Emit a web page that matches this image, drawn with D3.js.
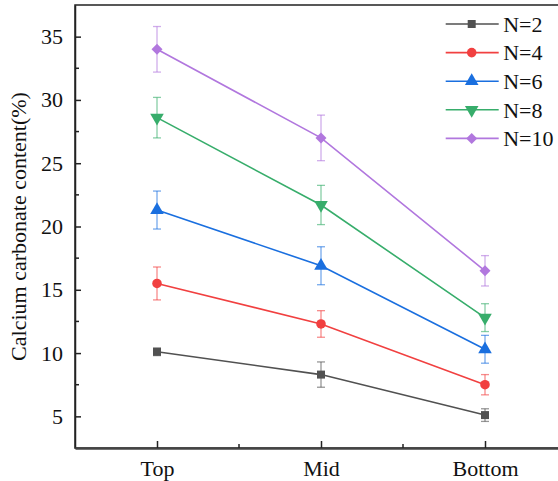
<!DOCTYPE html>
<html>
<head>
<meta charset="utf-8">
<script src="https://cdn.jsdelivr.net/npm/d3@7"></script>
<style>
  body { margin: 0; background: #fff; }
  svg text { font-family: "Liberation Serif", "Times New Roman", serif; }
</style>
</head>
<body>
<div id="chart"></div>
<script>
// positions along the column
const positions = ["Top", "Mid", "Bottom"];
// series names and colours (Origin style palette)
const seriesNames = ["N=2", "N=4", "N=6", "N=8", "N=10"];
const seriesColors = ["#515151", "#F14040", "#1A6FDF", "#37AD6B", "#B177DE"];
const seriesSymbols = ["square", "circle", "triangle", "triangleDown", "diamond"];
// values, Top / Mid / Bottom
const valuesN2 = [10.1, 8.3, 5.1];
const valuesN4 = [15.5, 12.3, 7.5];
const valuesN6 = [21.3, 16.9, 10.3];
const valuesN8 = [28.6, 21.7, 12.8];
const valuesN10 = [34.0, 27.0, 16.5];
// error bars (+/-)
const errN2 = [0.3, 1.0, 0.5];
const errN4 = [1.3, 1.05, 0.8];
const errN6 = [1.5, 1.5, 1.1];
const errN8 = [1.6, 1.55, 1.1];
const errN10 = [1.8, 1.8, 1.2];
const yTicks = [5, 10, 15, 20, 25, 30, 35];

const allValues = [valuesN2, valuesN4, valuesN6, valuesN8, valuesN10];
const allErrs = [errN2, errN4, errN6, errN8, errN10];

const svgWidth = 558;
const svgHeight = 481;
const margin = { top: 5, right: -9, bottom: 33, left: 75 };
const width = svgWidth - margin.left - margin.right;
const height = svgHeight - margin.top - margin.bottom;

const svg = d3.select("#chart")
    .append("svg")
    .attr("width", svgWidth)
    .attr("height", svgHeight)
    .append("g")
    .attr("transform", `translate(${margin.left},${margin.top})`);

// x is a linear scale so the minor ticks can sit between categories
const x = d3.scaleLinear()
    .domain([0.5, positions.length + 0.5])
    .range([0, width]);

const y = d3.scaleLinear()
    .domain([2.5, 37.5])
    .range([height, 0]);

// frame
svg.append("rect")
    .attr("x", 0)
    .attr("y", 0)
    .attr("width", width)
    .attr("height", height)
    .attr("fill", "none")
    .attr("stroke", "#222")
    .attr("stroke-width", 1.5);

// y axis, ticks pointing inward
const yAxis = svg.append("g")
    .attr("class", "axis axis-y")
    .call(d3.axisLeft(y).tickValues(yTicks).tickSizeInner(-6).tickSizeOuter(0).tickPadding(12));
yAxis.select(".domain").attr("stroke", "#222").attr("stroke-width", 1.5);
yAxis.selectAll(".tick line").attr("stroke", "#222").attr("stroke-width", 1.5);
yAxis.selectAll("text").attr("font-size", "22px").attr("fill", "#111");

// minor y ticks
svg.append("g")
    .selectAll("line")
    .data(d3.range(7.5, 37.5, 5))
    .enter()
    .append("line")
    .attr("x1", 0)
    .attr("x2", 4)
    .attr("y1", d => y(d))
    .attr("y2", d => y(d))
    .attr("stroke", "#222")
    .attr("stroke-width", 1.5);

// x axis
const xAxis = svg.append("g")
    .attr("class", "axis axis-x")
    .attr("transform", `translate(0, ${height})`)
    .call(d3.axisBottom(x).tickValues([1, 2, 3]).tickFormat(d => positions[d - 1])
        .tickSizeInner(-7).tickSizeOuter(0).tickPadding(12));
xAxis.select(".domain").attr("stroke", "#444").attr("stroke-width", 2.5);
xAxis.selectAll(".tick line").attr("stroke", "#222").attr("stroke-width", 1.5);
xAxis.selectAll("text").attr("font-size", "22px").attr("fill", "#111");

svg.append("g")
    .selectAll("line")
    .data([1.5, 2.5])
    .enter()
    .append("line")
    .attr("x1", d => x(d))
    .attr("x2", d => x(d))
    .attr("y1", height)
    .attr("y2", height - 4)
    .attr("stroke", "#222")
    .attr("stroke-width", 1.5);

// y axis label
svg.append("text")
    .attr("transform", `translate(${-49}, ${height / 2}) rotate(-90)`)
    .attr("text-anchor", "middle")
    .attr("font-size", "22px")
    .attr("fill", "#111")
    .text("Calcium carbonate content(%)");

// diamond drawn as a square turned 45 degrees (wider than d3's diamond)
const symbolTypes = {
    square: d3.symbolSquare,
    circle: d3.symbolCircle,
    triangle: d3.symbolTriangle,
    triangleDown: d3.symbolTriangle,
    diamond: d3.symbolSquare
};
const symbolSizes = { square: 64, circle: 72, triangle: 80, triangleDown: 80, diamond: 60 };

function symbolPath(name) {
    return d3.symbol().type(symbolTypes[name]).size(symbolSizes[name])();
}
function symbolRotate(name) {
    if (name === "triangleDown") return " rotate(180)";
    if (name === "diamond") return " rotate(45)";
    return "";
}

const line = d3.line()
    .x((d, i) => x(i + 1))
    .y(d => y(d));

seriesNames.forEach(function (name, s) {
    const color = seriesColors[s];
    const vals = allValues[s];
    const errs = allErrs[s];
    const g = svg.append("g").attr("class", "series");

    // error bars
    const eb = g.selectAll(".err")
        .data(vals.map((v, i) => ({ i: i, v: v, e: errs[i] })))
        .enter()
        .append("g")
        .attr("stroke", color)
        .attr("stroke-opacity", 0.6)
        .attr("stroke-width", 1.3);
    eb.append("line")
        .attr("x1", d => x(d.i + 1))
        .attr("x2", d => x(d.i + 1))
        .attr("y1", d => y(d.v + d.e))
        .attr("y2", d => y(d.v - d.e));
    eb.append("line")
        .attr("x1", d => x(d.i + 1) - 4)
        .attr("x2", d => x(d.i + 1) + 4)
        .attr("y1", d => y(d.v + d.e))
        .attr("y2", d => y(d.v + d.e));
    eb.append("line")
        .attr("x1", d => x(d.i + 1) - 4)
        .attr("x2", d => x(d.i + 1) + 4)
        .attr("y1", d => y(d.v - d.e))
        .attr("y2", d => y(d.v - d.e));

    g.append("path")
        .datum(vals)
        .attr("d", line)
        .attr("fill", "none")
        .attr("stroke", color)
        .attr("stroke-width", 1.6);

    g.selectAll(".marker")
        .data(vals)
        .enter()
        .append("path")
        .attr("d", symbolPath(seriesSymbols[s]))
        .attr("transform", (d, i) => `translate(${x(i + 1)},${y(d)})` + symbolRotate(seriesSymbols[s]))
        .attr("fill", color);
});

// legend
const legend = svg.append("g")
    .attr("transform", `translate(${445.7 - margin.left}, ${24 - margin.top})`);
const rows = legend.selectAll(".row")
    .data(seriesNames)
    .enter()
    .append("g")
    .attr("transform", (d, i) => `translate(0, ${i * 28.6})`);
rows.append("line")
    .attr("x1", 0)
    .attr("x2", 53)
    .attr("y1", 0)
    .attr("y2", 0)
    .attr("stroke", (d, i) => seriesColors[i])
    .attr("stroke-width", 1.6);
rows.append("path")
    .attr("d", (d, i) => symbolPath(seriesSymbols[i]))
    .attr("transform", (d, i) => "translate(26,0)" + symbolRotate(seriesSymbols[i]))
    .attr("fill", (d, i) => seriesColors[i]);
rows.append("text")
    .attr("x", 57.5)
    .attr("y", 0)
    .attr("dy", "0.35em")
    .attr("font-size", "22px")
    .attr("fill", "#111")
    .text(d => d);
</script>
</body>
</html>
